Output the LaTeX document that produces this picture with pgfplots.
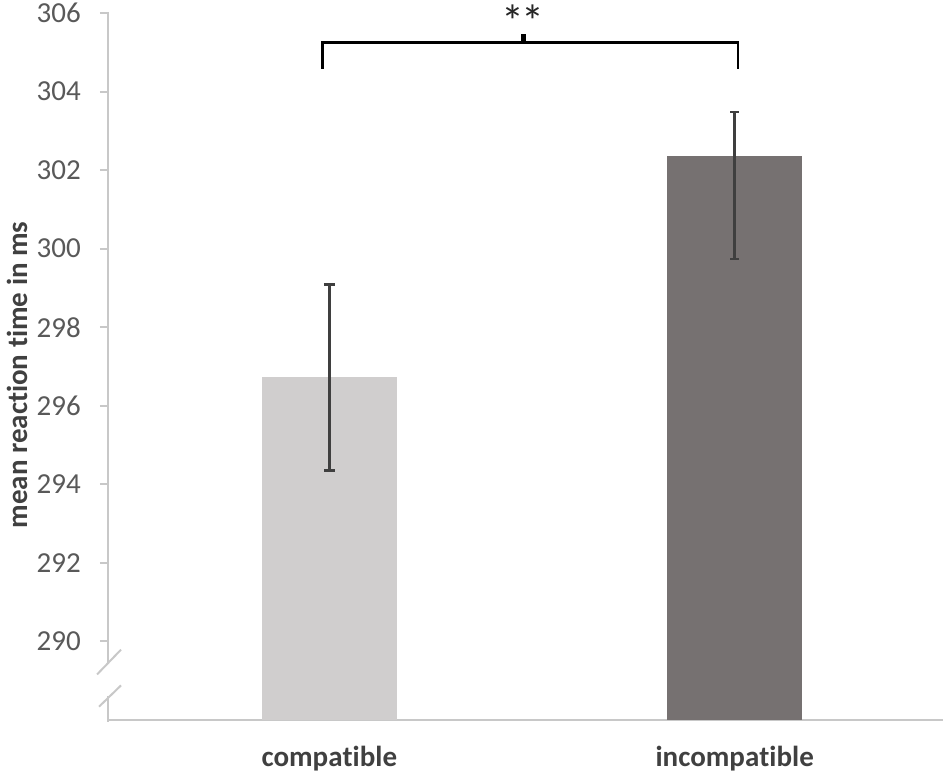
\documentclass[border=0pt]{standalone}
\usepackage{fontspec}
\setmainfont{Carlito}[Ligatures={NoCommon,NoContextual},RawFeature={-dlig;-calt}]
\usepackage{pgfplots}
\pgfplotsset{compat=1.18}
\definecolor{barA}{HTML}{D0CECE}
\definecolor{barB}{HTML}{767171}
\definecolor{errc}{HTML}{3F3F3F}
\definecolor{axisgray}{HTML}{C8C8C8}
\definecolor{tickc}{HTML}{595959}
\definecolor{labc}{HTML}{404040}
\begin{document}
\begin{tikzpicture}[x=1pt,y=1pt]
\path[use as bounding box] (0,0) rectangle (949,778);
\begin{axis}[
  at={(108pt,58pt)}, anchor=south west,
  scale only axis, width=835pt, height=707pt,
  xmin=0, xmax=2.06, ymin=288, ymax=306,
  clip mode=individual,
  axis x line*=bottom, axis y line*=left,
  x axis line style={draw=axisgray, line width=2pt, -},
  y axis line style={draw=none},
  ytick={290,292,...,306},
  tick align=outside,
  major tick length=8pt,
  ytick style={draw=axisgray, line width=2pt},
  xtick={0.546,1.546},
  xticklabels={{compa\kern0pt tible},{incompa\kern0pt tible}},
  xtick style={draw=none},
  extra x ticks={0,1.063,2.06},
  extra x tick labels={},
  extra x tick style={tick style={draw=axisgray, line width=2pt}},
  /pgf/number format/assume math mode=true,
  yticklabel style={font=\fontsize{29}{34}\selectfont, text=tickc, anchor=east, inner sep=0pt, xshift=-19pt},
  xticklabel style={font=\bfseries\fontsize{29}{34}\selectfont, text=labc, anchor=base, inner sep=0pt, yshift=-39pt},
]
\addplot[ybar, bar width=0.333, bar shift=0pt, fill=barA, draw=none,
  error bars/.cd, y dir=both, y explicit,
  error bar style={line width=2.6pt, color=errc},
  error mark options={rotate=90, mark size=5.5pt, line width=2.6pt, color=errc}]
  coordinates {(0.546,296.72) +- (0,2.37)};
\addplot[ybar, bar width=0.333, bar shift=0pt, fill=barB, draw=none,
  error bars/.cd, y dir=both, y explicit,
  error bar style={line width=2.6pt, color=errc},
  error mark options={rotate=90, mark size=4.5pt, line width=2.6pt, color=errc}]
  coordinates {(1.546,302.36) += (0,1.12) -= (0,2.62)};
% y axis with break
\draw[axisgray, line width=2pt] (axis cs:0,306.03) -- (axis cs:0,289.45);
\draw[axisgray, line width=2pt] (axis cs:0,288.6) -- (axis cs:0,287.95);
\draw[axisgray, line width=2pt] (axis cs:-0.027,289.16) -- (axis cs:0.032,289.79);
\draw[axisgray, line width=2pt] (axis cs:-0.022,288.34) -- (axis cs:0.032,288.88);
% significance bracket
\draw[black, line width=2.7pt, line cap=butt, line join=miter] (axis cs:0.530,304.58) -- (axis cs:0.530,305.24) -- (axis cs:1.554,305.24) -- (axis cs:1.554,304.58);
\draw[black, line width=5pt] (axis cs:1.024,305.24) -- (axis cs:1.024,305.47);
\end{axis}
\node[anchor=north, inner sep=0pt, text=black!85, font=\fontsize{46}{50}\selectfont] at (523pt,773pt) {*\kern-3pt*};
\node[rotate=90, inner sep=0pt, text=labc, font=\bfseries\fontsize{29}{34}\selectfont] at (17pt,403pt) {mean reac\kern0pt tion \kern0pt time in ms};
\end{tikzpicture}
\end{document}
